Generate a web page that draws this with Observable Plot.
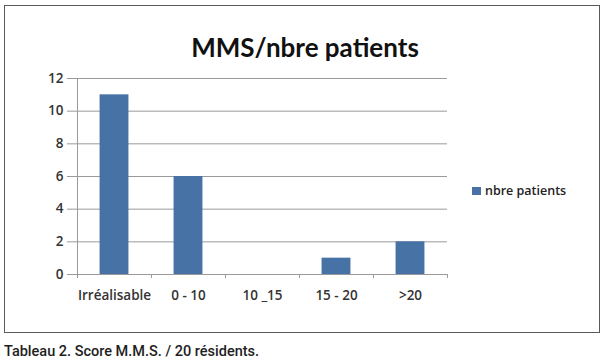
<!DOCTYPE html>
<html>
<head>
<meta charset="utf-8">
<script src="https://cdn.jsdelivr.net/npm/d3@7"></script>
<script src="https://cdn.jsdelivr.net/npm/@observablehq/plot@0.6"></script>
<style>
  body { margin: 0; background: #fff; }
  #wrap { position: relative; width: 605px; height: 361px; overflow: hidden; background: #fff; }
  #frame { position: absolute; left: 4px; top: 5px; width: 594px; height: 326px; border: 1px solid #5a5a5a; }
  #title { position: absolute; left: 0; width: 610px; top: 31px; text-align: center; font: bold 26px Lato, sans-serif; color: #111; }
  #chart { position: absolute; left: 0; top: 0; }
  #chart svg text { font-family: "Open Sans", sans-serif !important; font-size: 13.5px !important; font-weight: 600; }
  #legend { position: absolute; left: 472px; top: 182px; font: 600 12.5px "Open Sans", sans-serif; color: #222; display: flex; align-items: center; }
  #legend .sw { width: 9px; height: 8px; background: #4672a6; margin-right: 4px; }
  #caption { position: absolute; left: 4px; top: 343px; font: 500 14.5px Roboto, sans-serif; color: #1e1e1e; }
</style>
</head>
<body>
<div id="wrap">
  <div id="frame"></div>
  <div id="chart"></div>
  <div id="title">MMS/nbre patients</div>
  <div id="legend"><span class="sw"></span><span id="legtext"></span></div>
  <div id="caption">Tableau 2. Score M.M.S. / 20 résidents.</div>
</div>
<script>
const categories = ["Irréalisable", "0 - 10", "10 _15", "15 - 20", ">20"];
const values = [11, 6, 0, 1, 2];
const seriesName = "nbre patients";
const yTicks = [0, 2, 4, 6, 8, 10, 12];

const data = categories.map((c, i) => ({cat: c, v: values[i]}));
document.getElementById("legtext").textContent = seriesName;

const W = 605, H = 310, mL = 77, mR = 158, mT = 78, mB = 36;
const band = (W - mL - mR) / categories.length;
const color = "#4672a6";
const grid = "#9a9a9a";
const inset = band * 0.305;

// band edges: left edge of every category plus right edge of the last
const edges = categories.map(c => ({cat: c, side: -1})).concat([{cat: categories[categories.length - 1], side: 1}]);

const chart = Plot.plot({
  width: W, height: H,
  marginLeft: mL, marginRight: mR, marginTop: mT, marginBottom: mB,
  style: {fontFamily: "'Open Sans', sans-serif", fontSize: "13.5px", color: "#333", background: "transparent"},
  x: {domain: categories, padding: 0, paddingInner: 0, paddingOuter: 0, label: null},
  y: {domain: [0, 12], label: null},
  marks: [
    Plot.ruleY(yTicks.filter(t => t > 0), {y: d => d, stroke: grid, strokeWidth: 1}),
    Plot.barY(data, {x: "cat", y: "v", fill: color, insetLeft: inset, insetRight: inset}),
    Plot.ruleX([0], {x: () => categories[0], dx: -band / 2, stroke: grid}),
    Plot.ruleY([0], {stroke: grid}),
    Plot.ruleX(edges.filter(e => e.side < 0), {x: "cat", y1: 0, y2: 0, insetBottom: -4, dx: -band / 2, stroke: grid}),
    Plot.ruleX(edges.filter(e => e.side > 0), {x: "cat", y1: 0, y2: 0, insetBottom: -4, dx: band / 2, stroke: grid}),
    Plot.axisX({tickSize: 0, tickPadding: 16, fill: "#333"}),
    Plot.axisY({ticks: yTicks, tickSize: 10, tickPadding: 4, stroke: grid, fill: "#333", tickFormat: d => d})
  ]
});
document.getElementById("chart").appendChild(chart);
</script>
</body>
</html>
